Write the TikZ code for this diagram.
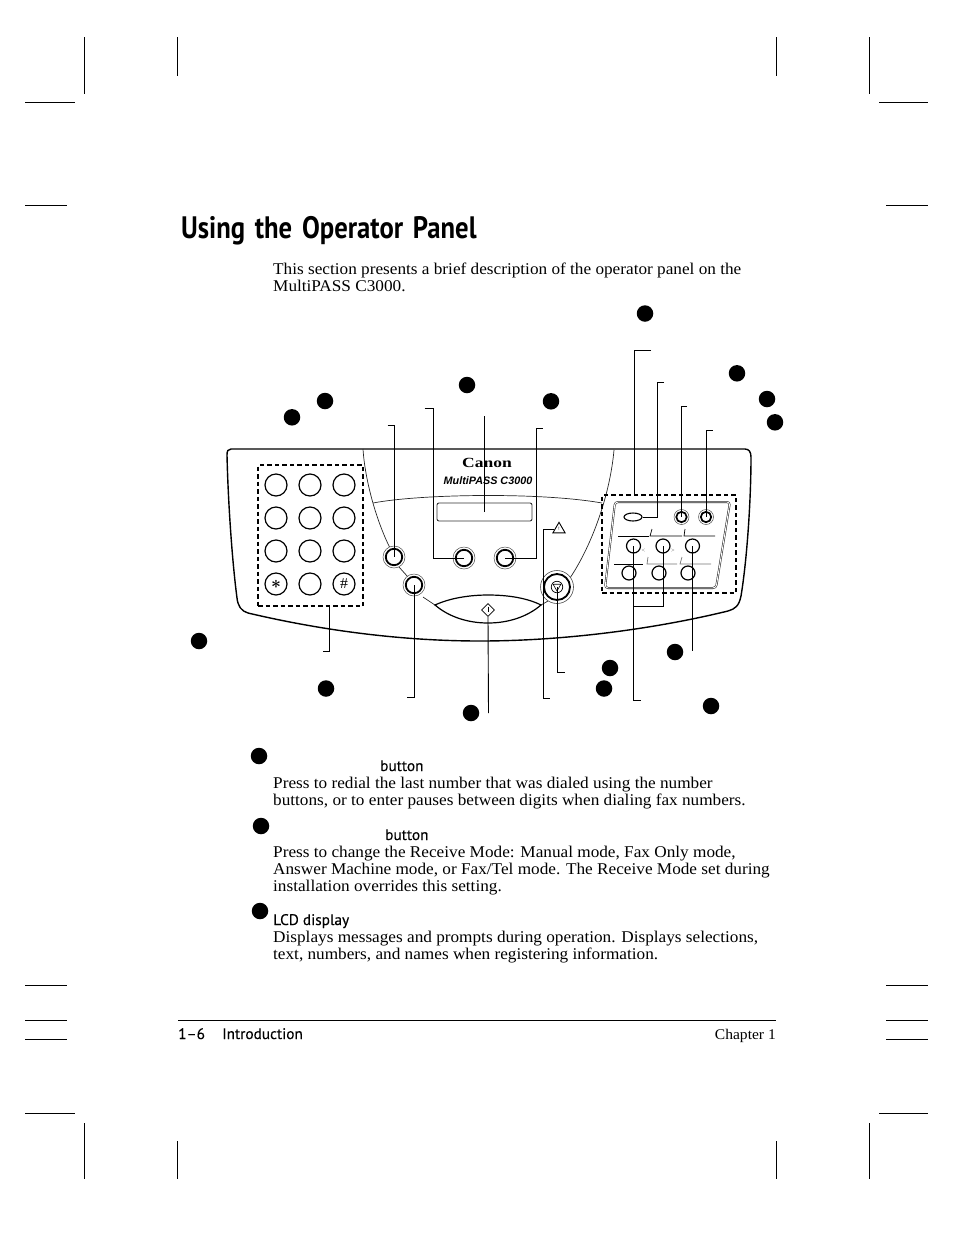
\documentclass[tikz,border=0pt]{standalone}
\usepackage{fontspec}
\setmainfont[FakeStretch=1.05]{Liberation Serif}
\newfontfamily\headfont[FakeBold=0.2]{PT Sans}
\newfontfamily\titlefont[FakeStretch=0.86]{PT Sans}
\newfontfamily\canonfont{Liberation Serif}
\newfontfamily\logofont{Liberation Sans}
\usetikzlibrary{shapes.geometric}
\tikzset{
    mark line/.style={black,line width=0.8pt},
    leader/.style={black,line width=0.9pt},
    thin line/.style={black!85,line width=0.7pt},
    dash box/.style={draw,black,line width=1.2pt,dash pattern=on 4.5pt off 3pt,inner sep=0pt},
    callout/.style={circle,fill=black,inner sep=0pt,minimum size=16.5pt},
    padkey/.style={circle,draw,fill=white,line width=1.2pt,inner sep=0pt,minimum size=22pt},
    ringkey/.style={circle,draw=black!70,fill=white,line width=0.5pt,inner sep=0pt,minimum size=22pt,
        path picture={\draw[black,line width=1.8pt] (path picture bounding box.center) circle (8.2pt);}},
    fnring/.style={circle,draw=black!70,fill=white,line width=0.5pt,inner sep=0pt,minimum size=15pt,
        path picture={\draw[black,line width=1.7pt] (path picture bounding box.center) circle (5.2pt);}},
    smallkey/.style={circle,draw,fill=white,line width=1.2pt,inner sep=0pt,minimum size=14pt},
    body/.style={anchor=base west,inner sep=0pt,font=\fontsize{16.4}{17}\selectfont},
    head/.style={anchor=base west,inner sep=0pt,font=\headfont\fontsize{15.3}{17}\selectfont},
}
\begin{document}
\begin{tikzpicture}[x=1pt,y=-1pt]
    \useasboundingbox (0,0) rectangle (954,1235);
    \draw[mark line] (84.5,37) -- (84.5,93.5);
    \draw[mark line] (177.5,37) -- (177.5,76);
    \draw[mark line] (776,37) -- (776,76);
    \draw[mark line] (869.5,37) -- (869.5,93.5);
    \draw[mark line] (25,102) -- (75,102);
    \draw[mark line] (25,205) -- (67,205);
    \draw[mark line] (879,102) -- (928,102);
    \draw[mark line] (886,205) -- (928,205);
    \draw[mark line] (25,985) -- (67,985);
    \draw[mark line] (25,1020) -- (67,1020);
    \draw[mark line] (25,1039.5) -- (67,1039.5);
    \draw[mark line] (25,1113) -- (75,1113);
    \draw[mark line] (886,985) -- (928,985);
    \draw[mark line] (886,1020) -- (928,1020);
    \draw[mark line] (886,1039.5) -- (928,1039.5);
    \draw[mark line] (879,1113) -- (928,1113);
    \draw[mark line] (84.5,1123) -- (84.5,1179);
    \draw[mark line] (177.5,1141) -- (177.5,1179);
    \draw[mark line] (776,1141) -- (776,1179);
    \draw[mark line] (869.5,1123) -- (869.5,1179);
    \draw[mark line] (178,1020.5) -- (776,1020.5);

    \node[anchor=base west,inner sep=0pt,font=\titlefont\bfseries\fontsize{31}{36}\selectfont] (title) at (181,238) {Using\hspace{3pt} the\hspace{3pt} Operator\hspace{3pt} Panel};
    \node[body] (introa) at (273,274) {This section presents a brief description of the operator panel on the};
    \node[body] (introb) at (273,291) {MultiPASS C3000.};

    \draw[black,line width=1.4pt] (231,449) -- (745,449) .. controls (749,449) and (751,452) .. (751,457)
        .. controls (751,500) and (747,560) .. (741,596) .. controls (739,606) and (735,609) .. (728,611)
        .. controls (650,630) and (560,641) .. (480,641) .. controls (400,641) and (320,630) .. (248,613)
        .. controls (241,611) and (238,606) .. (237,598) .. controls (232,560) and (228,500) .. (227,455)
        .. controls (227,451) and (228,449) .. (231,449) -- cycle;
    \draw[thin line] (363,449) .. controls (365,480) and (376,520) .. (390,548);
    \draw[thin line] (399,567) -- (408,577);
    \draw[thin line] (423,597) -- (435,605);
    \draw[thin line] (373,503) .. controls (420,494) and (540,492) .. (602,503);
    \draw[thin line] (614,450) .. controls (610,495) and (592,545) .. (570,578);
    \draw[thin line] (541,605) -- (548,601);
    \draw[black,line width=1.2pt] (435,605) .. controls (450,598) and (470,595) .. (488,595)
        .. controls (508,595) and (527,598) .. (541,605) .. controls (527,617) and (508,623) .. (488,623)
        .. controls (468,623) and (449,617) .. (435,605) -- cycle;

    \node[inner sep=0pt,font=\canonfont\bfseries\fontsize{14}{14}\selectfont,xscale=1.25] (canon) at (487,463) {Canon};
    \node[inner sep=0pt,font=\logofont\bfseries\itshape\fontsize{10.8}{11}\selectfont] (model) at (488,481) {MultiPASS C3000};
    \node[draw,black!80,rectangle,rounded corners=2pt,line width=0.9pt,minimum width=95pt,minimum height=18pt,inner sep=0pt] (lcd) at (484.5,512) {};

    \node[dash box,minimum width=105pt,minimum height=141pt] (keybox) at (310.5,535.5) {};
    \node[padkey] (ka) at (276,485) {};
    \node[padkey] (kb) at (310,485) {};
    \node[padkey] (kc) at (344,485) {};
    \node[padkey] (kd) at (276,518) {};
    \node[padkey] (ke) at (310,518) {};
    \node[padkey] (kf) at (344,518) {};
    \node[padkey] (kg) at (276,551) {};
    \node[padkey] (kh) at (310,551) {};
    \node[padkey] (ki) at (344,551) {};
    \node[padkey,font=\boldmath\fontsize{18}{18}\selectfont] (kj) at (276,584) {$*$};
    \node[padkey] (kk) at (310,584) {};
    \node[padkey,font=\fontsize{15}{15}\selectfont] (kl) at (344,584) {\#};

    \node[ringkey] (redial) at (394,557) {};
    \node[ringkey] (coded) at (414,585) {};
    \node[ringkey] (mode) at (464,558) {};
    \node[ringkey] (menu) at (505,558) {};
    \node[circle,draw=black!70,fill=white,line width=0.6pt,inner sep=0pt,minimum size=33pt,
        path picture={\draw[black,line width=1.8pt] (path picture bounding box.center) circle (13pt);}] (stopkey) at (557,587) {};
    \node[circle,draw,line width=0.7pt,inner sep=0pt,minimum size=11.5pt] (stopring) at (557,587) {};
    \node[regular polygon,regular polygon sides=3,shape border rotate=180,draw,line width=0.6pt,inner sep=0pt,minimum size=9pt] (stoptri) at (557,586.5) {};
    \node[diamond,draw,line width=0.8pt,fill=white,inner sep=0pt,minimum size=13pt] (startkey) at (488,610) {};
    \draw[black,line width=0.7pt] (488,606.5) -- (488,612);
    \node[regular polygon,regular polygon sides=3,draw,line width=0.9pt,inner sep=0pt,minimum size=14pt,font=\fontsize{5}{5}\selectfont] (warn) at (559,529.3) {!};

    \node[dash box,minimum width=134pt,minimum height=98pt] (fnbox) at (669,544) {};
    \draw[black!85,line width=0.55pt,double,double distance=0.9pt,rounded corners=3pt] (615,502) -- (730,502) -- (716,588) -- (605,588) -- cycle;
    \node[ellipse,draw,fill=white,line width=1.1pt,inner sep=0pt,minimum width=18pt,minimum height=8pt] (oval) at (633,517) {};
    \node[fnring] (fna) at (681.5,517) {};
    \node[fnring] (fnb) at (706,517) {};
    \node[smallkey] (fnc) at (633.5,546) {};
    \node[smallkey] (fnd) at (663,546) {};
    \node[smallkey] (fne) at (692.5,546) {};
    \node[smallkey] (fnf) at (629,573) {};
    \node[smallkey] (fng) at (659,573) {};
    \node[smallkey] (fnh) at (688,573) {};
    \node[inner sep=0pt,black!70,font=\fontsize{6}{6}\selectfont] (lessmark) at (643.5,551) {<};
    \node[inner sep=0pt,black!70,font=\fontsize{6}{6}\selectfont] (moremark) at (673,551) {>};
    \draw[black,line width=0.7pt] (618,536) -- (649,536);
    \draw[black,line width=0.7pt] (652,529) -- (650,536) -- (682,536);
    \draw[black,line width=0.7pt] (685,529) -- (684,536) -- (715,536);
    \draw[black,line width=0.7pt] (614,564) -- (643,564);
    \draw[black!55,line width=0.7pt] (648,557) -- (647,564) -- (677,564);
    \draw[black!55,line width=0.7pt] (682,557) -- (680,564) -- (711,564);

    \coordinate (topa) at (387.5,425);
    \coordinate (topb) at (424.5,408);
    \coordinate (elbb) at (433.5,558);
    \coordinate (topc) at (484.5,416);
    \coordinate (topd) at (542.5,428);
    \coordinate (elbd) at (536,558);
    \coordinate (tope) at (651,350);
    \coordinate (elbe) at (634,495);
    \coordinate (topf) at (664,382);
    \coordinate (elbf) at (657,517);
    \coordinate (topg) at (687,406.5);
    \coordinate (toph) at (712.5,430.5);
    \coordinate (lowa) at (323,651.5);
    \coordinate (elba) at (329.5,606);
    \coordinate (lowb) at (407,697.5);
    \coordinate (lowc) at (488.5,713);
    \coordinate (lowd) at (550,698);
    \coordinate (elbl) at (543,698);
    \coordinate (lowe) at (564.5,672.5);
    \coordinate (lowf) at (641,700.5);
    \coordinate (jnf) at (633.5,606);
    \coordinate (lowg) at (692.5,650.5);
    \draw[leader] (topa) -| (redial.center);
    \draw[leader] (topb) -| (elbb) -- (mode.center);
    \draw[leader] (lcd.center) -- (topc);
    \draw[leader] (topd) -| (elbd) -- (menu.center);
    \draw[leader] (tope) -| (elbe);
    \draw[leader] (topf) -| (elbf) -- (oval.east);
    \draw[leader] (topg) -| (fna.center);
    \draw[leader] (toph) -| (fnb.center);
    \draw[leader] (elba) |- (lowa);
    \draw[leader] (coded.center) |- (lowb);
    \draw[leader] (startkey.south) -- (lowc);
    \draw[leader] (warn.west) -| (elbl) -- (lowd);
    \draw[leader] (stopkey.center) |- (lowe);
    \draw[leader] (fnc.center) |- (lowf);
    \draw[leader] (fnd.center) |- (jnf);
    \draw[leader] (fne.center) -- (lowg);

    \node[callout] (ca) at (645,313.5) {};
    \node[callout] (cb) at (737,373.3) {};
    \node[callout] (cc) at (767,399) {};
    \node[callout] (cd) at (775,422.3) {};
    \node[callout] (ce) at (292,417.3) {};
    \node[callout] (cf) at (325,401) {};
    \node[callout] (cg) at (467,385) {};
    \node[callout] (ch) at (551,401.3) {};
    \node[callout] (ci) at (199,641) {};
    \node[callout] (cj) at (326,688.5) {};
    \node[callout] (ck) at (471,713) {};
    \node[callout] (cl) at (610,668) {};
    \node[callout] (cm) at (604,688.5) {};
    \node[callout] (cn) at (675,652) {};
    \node[callout] (co) at (711,706) {};

    \node[callout] (na) at (259,756) {};
    \node[head] (nah) at (380,771) {button};
    \node[body] (naa) at (273,788) {Press to redial the last number that was dialed using the number};
    \node[body] (nab) at (273,805) {buttons, or to enter pauses between digits when dialing fax numbers.};
    \node[callout] (nb) at (261,826) {};
    \node[head] (nbh) at (385,840) {button};
    \node[body] (nba) at (273,857) {Press to change the Receive Mode: Manual mode, Fax Only mode,};
    \node[body] (nbb) at (273,874) {Answer Machine mode, or Fax/Tel mode. The Receive Mode set during};
    \node[body] (nbc) at (273,891) {installation overrides this setting.};
    \node[callout] (nc) at (260,911) {};
    \node[head] (nch) at (273,925) {LCD display};
    \node[body] (nca) at (273,942) {Displays messages and prompts during operation. Displays selections,};
    \node[body] (ncb) at (273,959) {text, numbers, and names when registering information.};

    \node[head] (pagenum) at (178,1039) {1–6};
    \node[head] (section) at (222,1039) {Introduction};
    \node[body,anchor=base east,font=\fontsize{14.8}{17}\selectfont] (chapter) at (776,1039) {Chapter 1};
\end{tikzpicture}
\end{document}
